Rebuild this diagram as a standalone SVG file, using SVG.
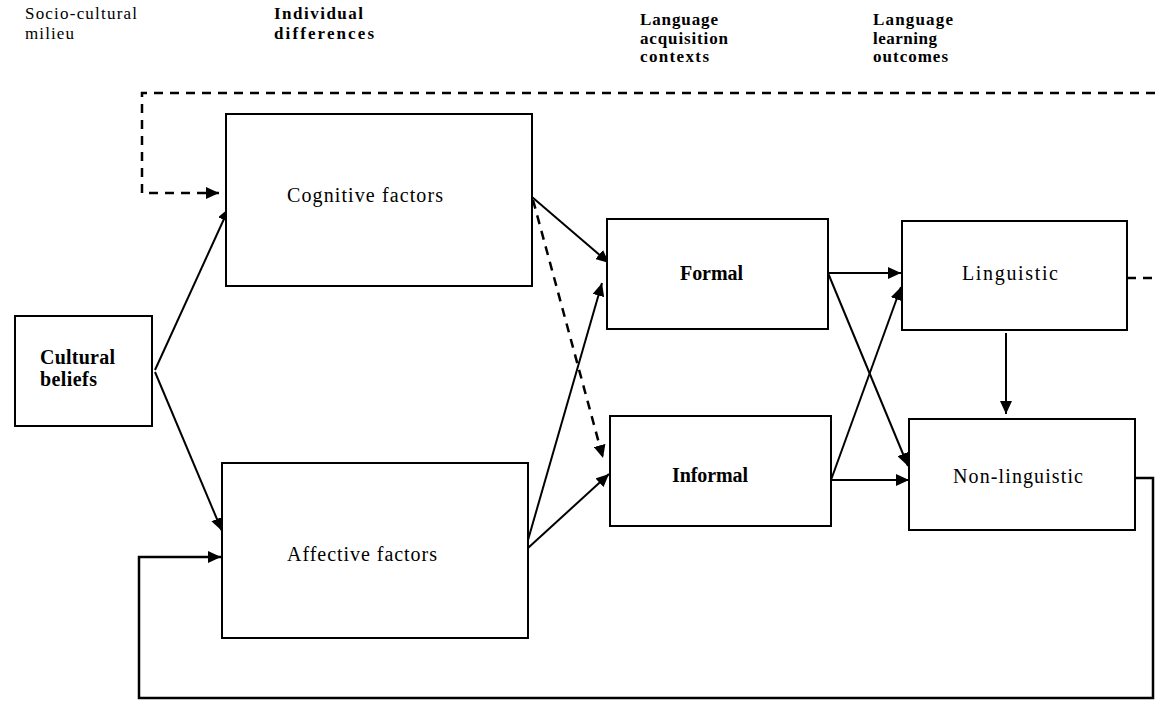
<svg xmlns="http://www.w3.org/2000/svg" width="1155" height="702" viewBox="0 0 1155 702">
<style>
.box{fill:#fff;stroke:#000;stroke-width:2}
.ln{fill:none;stroke:#000;stroke-width:2}
.dash{fill:none;stroke:#000;stroke-width:2.5;stroke-dasharray:9 7}
text{font-family:"Liberation Serif","Times New Roman",serif;fill:#000}
.hd{font-size:17px}
.lb{font-size:20px}
.b{font-weight:bold}
</style>
<defs>
<marker id="ah" markerUnits="userSpaceOnUse" markerWidth="14" markerHeight="12" refX="13" refY="6" orient="auto">
<path d="M0,0 L13,6 L0,12 Z" fill="#000"/>
</marker>
</defs>
<rect width="1155" height="702" fill="#fff"/>
<g id="headers">
<text class="hd" x="25" y="19" textLength="112">Socio-cultural</text>
<text class="hd" x="25" y="39" textLength="49">milieu</text>
<text class="hd b" x="274" y="19" textLength="89">Individual</text>
<text class="hd b" x="274" y="39" textLength="100">differences</text>
<text class="hd b" x="640" y="25" textLength="78">Language</text>
<text class="hd b" x="640" y="44" textLength="88">acquisition</text>
<text class="hd b" x="640" y="62" textLength="69">contexts</text>
<text class="hd b" x="873" y="25" textLength="80">Language</text>
<text class="hd b" x="873" y="44" textLength="64">learning</text>
<text class="hd b" x="873" y="62" textLength="75">outcomes</text>
</g>
<g id="connectors">
<path class="dash" d="M1155,93 H142 V193 H219" marker-end="url(#ah)"/>
<path class="dash" d="M1127,278 H1155"/>
<path class="dash" d="M533,200 L603,458" marker-end="url(#ah)"/>
<path class="ln" d="M155,370 L229,208" marker-end="url(#ah)"/>
<path class="ln" d="M155,372 L222,531" marker-end="url(#ah)"/>
<path class="ln" d="M532,197 L609,263" marker-end="url(#ah)"/>
<path class="ln" d="M528,540 L602,283" marker-end="url(#ah)"/>
<path class="ln" d="M528,548 L609,474" marker-end="url(#ah)"/>
<path class="ln" d="M828,273 L901,273" marker-end="url(#ah)"/>
<path class="ln" d="M828,273 L908,466" marker-end="url(#ah)"/>
<path class="ln" d="M831,480 L901,287" marker-end="url(#ah)"/>
<path class="ln" d="M831,480 L909,480" marker-end="url(#ah)"/>
<path class="ln" d="M1006,333 V414" marker-end="url(#ah)"/>
<path class="ln" style="stroke-width:2.5" d="M1135,478 H1153 V698 H139 V557 H221" marker-end="url(#ah)"/>
</g>
<g id="cultural">
<rect class="box" x="15" y="316" width="137" height="110"/>
<text class="lb b" x="40" y="364" textLength="75">Cultural</text>
<text class="lb b" x="40" y="386" textLength="57">beliefs</text>
</g>
<g id="cognitive">
<rect class="box" x="226" y="114" width="306" height="172"/>
<text class="lb" x="287" y="202" textLength="156">Cognitive factors</text>
</g>
<g id="affective">
<rect class="box" x="222" y="463" width="306" height="175"/>
<text class="lb" x="287" y="561" textLength="150">Affective factors</text>
</g>
<g id="formal">
<rect class="box" x="607" y="219" width="221" height="110"/>
<text class="lb b" x="680" y="280" textLength="63">Formal</text>
</g>
<g id="informal">
<rect class="box" x="610" y="416" width="221" height="110"/>
<text class="lb b" x="672" y="482" textLength="76">Informal</text>
</g>
<g id="linguistic">
<rect class="box" x="902" y="221" width="225" height="109"/>
<text class="lb" x="962" y="280" textLength="96">Linguistic</text>
</g>
<g id="nonlinguistic">
<rect class="box" x="909" y="419" width="226" height="111"/>
<text class="lb" x="953" y="483" textLength="130">Non-linguistic</text>
</g>
</svg>
